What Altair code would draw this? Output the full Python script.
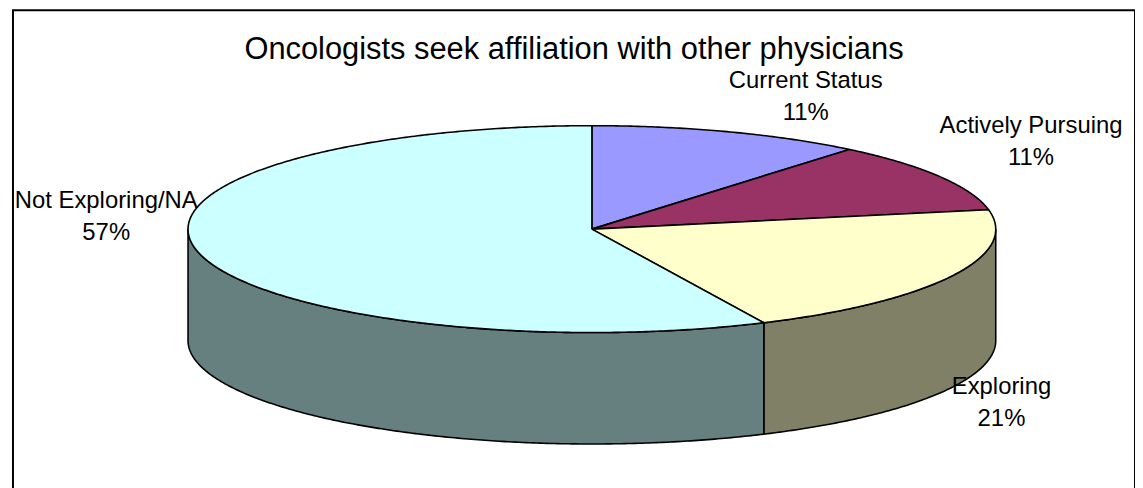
import math
import altair as alt
import pandas as pd

# ---- data ----
categories = ["Current Status", "Actively Pursuing", "Exploring", "Not Exploring/NA"]
percents = [11, 11, 21, 57]
percent_labels = ["11%", "11%", "21%", "57%"]
top_colors = ["#9999FF", "#993366", "#FFFFCC", "#CCFFFF"]
side_colors = ["#4D4D80", "#4D1A33", "#808066", "#668080"]
title_text = "Oncologists seek affiliation with other physicians"

# ---- layout (pixel geometry of the tilted pie) ----
CX, CY, RX, RY, DEPTH = 595, 229, 406, 104, 112
X0, X1, Y0, Y1 = 13, 1141, 9, 499
FS = 24

# approximate Arial advance widths (em) used to size the label boxes
CHAR_W = {"A": .667, "C": .722, "E": .667, "N": .722, "P": .667, "S": .667,
          "a": .556, "c": .5, "e": .556, "g": .556, "i": .222, "l": .222,
          "n": .556, "o": .556, "p": .556, "r": .333, "s": .5, "t": .278,
          "u": .556, "v": .5, "x": .5, "y": .5, "%": .889, "/": .278, " ": .278}


def text_w(t):
    return FS * sum(CHAR_W.get(ch, .556) for ch in t)


def pt(theta_deg, drop=0.0):
    t = math.radians(theta_deg)
    return CX + RX * math.sin(t), CY - RY * math.cos(t) + drop


def arc(a, b, drop=0.0):
    n = max(2, int(abs(b - a) / 0.5) + 1)
    return [pt(a + (b - a) * k / (n - 1), drop) for k in range(n)]


total = sum(percents)
bounds = []
acc = 0
for p in percents:
    a = acc / total * 360
    acc += p
    b = acc / total * 360
    bounds.append((a, b))

xs = alt.Scale(domain=[X0, X1], nice=False, zero=False)
ys = alt.Scale(domain=[Y0, Y1], nice=False, zero=False, reverse=True)


def poly(pts, color):
    df = pd.DataFrame({"idx": list(range(len(pts))),
                       "x": [p[0] for p in pts],
                       "y": [p[1] for p in pts]})
    return alt.Chart(df).mark_line(
        fill=color, stroke="black", strokeWidth=1.6, strokeJoin="round",
        interpolate="linear"
    ).encode(
        x=alt.X("x:Q", scale=xs, axis=None),
        y=alt.Y("y:Q", scale=ys, axis=None),
        order="idx:Q",
    )


layers = []
# visible front side walls (between 90 and 270 degrees)
for i, (a, b) in enumerate(bounds):
    lo, hi = max(a, 90), min(b, 270)
    if hi <= lo:
        continue
    pts = arc(lo, hi) + arc(hi, lo, DEPTH)
    pts.append(pts[0])
    layers.append(poly(pts, side_colors[i]))

# top faces
for i, (a, b) in enumerate(bounds):
    pts = [(CX, CY)] + arc(a, b) + [(CX, CY)]
    layers.append(poly(pts, top_colors[i]))

# labels placed just outside each slice at its mid angle
rows = []
for i, (a, b) in enumerate(bounds):
    mid = (a + b) / 2
    s, c = math.sin(math.radians(mid)), math.cos(math.radians(mid))
    front = c < -0.3
    px, py = pt(mid, DEPTH if front else 0)
    w = max(text_w(categories[i]), text_w(percent_labels[i]))
    xc = px + (1 if s >= 0 else -1) * w / 2
    yc = (py + 32 * abs(c)) if front else (py - 36)
    rows.append({"t": categories[i], "x": xc, "y": yc - 8})
    rows.append({"t": percent_labels[i], "x": xc, "y": yc + 24})

labels = alt.Chart(pd.DataFrame(rows)).mark_text(
    font="Liberation Sans", fontSize=FS, align="center", baseline="alphabetic", color="black"
).encode(
    x=alt.X("x:Q", scale=xs, axis=None),
    y=alt.Y("y:Q", scale=ys, axis=None),
    text="t:N",
)

chart = alt.layer(*layers, labels).properties(
    width=X1 - X0,
    height=Y1 - Y0,
    padding={"left": 5, "top": 1, "right": 0, "bottom": 0},
    autosize=alt.AutoSizeParams(type="none"),
    title=alt.TitleParams(
        title_text, font="Liberation Sans", fontSize=31, fontWeight="normal",
        color="black", anchor="middle", baseline="alphabetic", offset=0, dy=80,
    ),
).configure_view(stroke="black", strokeWidth=2)

chart.save("out.html", embed_options={"renderer": "svg", "actions": False})
